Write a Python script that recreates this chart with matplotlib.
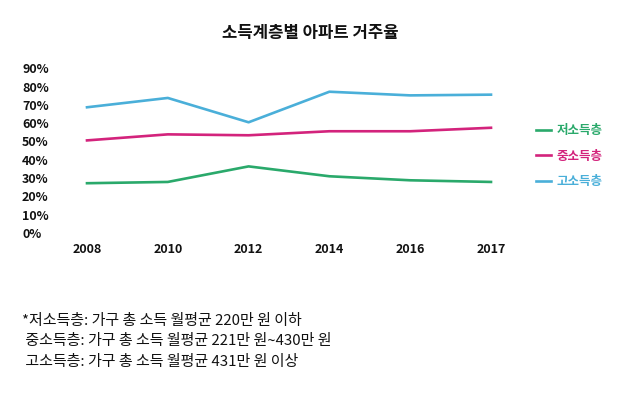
import matplotlib
matplotlib.use("Agg")
import matplotlib.pyplot as plt

plt.rcParams['font.family'] = ['Noto Sans CJK KR', 'DejaVu Sans']

years = ['2008', '2010', '2012', '2014', '2016', '2017']
low = [27.2, 27.9, 36.4, 31.0, 28.8, 27.9]
mid = [50.6, 53.9, 53.4, 55.6, 55.6, 57.5]
high = [68.7, 73.8, 60.5, 77.2, 75.2, 75.6]
series_names = ['저소득층', '중소득층', '고소득층']
colors = ['#2aa96b', '#d3237c', '#4aafd9']
yticks = [0, 10, 20, 30, 40, 50, 60, 70, 80, 90]
title = '소득계층별 아파트 거주율'
notes = ['*저소득층: 가구 총 소득 월평균 220만 원 이하',
         ' 중소득층: 가구 총 소득 월평균 221만 원~430만 원',
         ' 고소득층: 가구 총 소득 월평균 431만 원 이상']

W, H = 620, 394
fig = plt.figure(figsize=(W / 100, H / 100), dpi=100)
ax = fig.add_axes([87 / W, 1 - 233 / H, (491 - 87) / W, (233 - 68.3) / H])

x = list(range(len(years)))
handles = []
for vals, name, c in zip([low, mid, high], series_names, colors):
    h, = ax.plot(x, vals, color=c, lw=1.9, clip_on=False, label=name)
    handles.append(h)

ax.set_xlim(0, len(years) - 1)
ax.set_ylim(0, 90)
ax.set_yticks(yticks)
ax.set_yticklabels([f'{v}%' for v in yticks], fontweight='bold', fontsize=9, color='#111111')
for lab in ax.get_yticklabels():
    lab.set_horizontalalignment('left')
ax.tick_params(axis='y', length=0, pad=(87 - 22) * 0.72)
ax.set_xticks(x)
ax.set_xticklabels(years, fontweight='bold', fontsize=9, color='#111111')
ax.tick_params(axis='x', length=0, pad=7)
for s in ax.spines.values():
    s.set_visible(False)

fig.text(310 / W, 1 - 33 / H, title, ha='center', va='center', fontsize=12, fontweight='bold', color='#111111')

leg = fig.legend(handles=handles, loc='upper left', bbox_to_anchor=(525 / W, 1 - 113 / H),
                 frameon=False, handlelength=1.2, handletextpad=0.4, labelspacing=1.0,
                 prop={'size': 9, 'weight': 'bold'})
for t, c in zip(leg.get_texts(), colors):
    t.set_color(c)

for i, line in enumerate(notes):
    fig.text(22 / W, 1 - (321 + 20.3 * i) / H, line, ha='left', va='center', fontsize=10.8, color='#111111')

fig.savefig('out.png', dpi=100, facecolor='white')
